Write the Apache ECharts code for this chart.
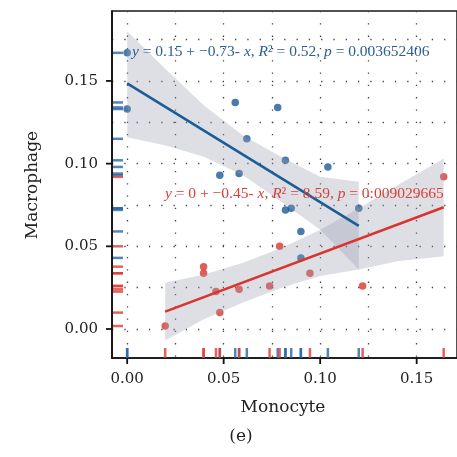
<!DOCTYPE html>
<html>
<head>
<meta charset="utf-8">
<script src="https://cdn.jsdelivr.net/npm/echarts@6/dist/echarts.min.js"></script>
<style>html,body{margin:0;padding:0;background:#fff}#d{width:457px;height:457px}</style>
</head>
<body>
<div id="d"></div>
<script>
// Monocyte (x) vs Macrophage (y), two groups
var blueX = [0.000, 0.000, 0.056, 0.078, 0.062, 0.082, 0.104, 0.048, 0.058, 0.082, 0.085, 0.120, 0.090, 0.090];
var blueY = [0.167, 0.133, 0.137, 0.134, 0.115, 0.102, 0.098, 0.093, 0.094, 0.072, 0.073, 0.073, 0.059, 0.043];
var redX = [0.164, 0.079, 0.0396, 0.0396, 0.0947, 0.0738, 0.058, 0.122, 0.046, 0.048, 0.0197];
var redY = [0.092, 0.050, 0.0377, 0.0337, 0.0337, 0.026, 0.024, 0.026, 0.0226, 0.0099, 0.0018];

// fitted lines (end points)
var blueFitX = [0, 0.12];
var blueFitY = [0.1485, 0.0623];
var redFitX = [0.0197, 0.164];
var redFitY = [0.0105, 0.0736];

// confidence bands
var blueBandX = [0, 0.02, 0.04, 0.06, 0.08, 0.10, 0.12];
var blueBandHi = [0.180, 0.157, 0.135, 0.117, 0.104, 0.092, 0.089];
var blueBandLo = [0.116, 0.111, 0.104, 0.093, 0.077, 0.060, 0.036];
var redBandX = [0.0197, 0.04, 0.06, 0.08, 0.10, 0.12, 0.14, 0.164];
var redBandHi = [0.028, 0.033, 0.040, 0.049, 0.060, 0.073, 0.087, 0.103];
var redBandLo = [-0.007, 0.006, 0.016, 0.025, 0.032, 0.036, 0.041, 0.044];

var xTicks = [0, 0.05, 0.10, 0.15];
var yTicks = [0, 0.05, 0.10, 0.15];
var xGrid = [0, 0.025, 0.05, 0.075, 0.10, 0.125, 0.15];
var yGrid = [0, 0.025, 0.05, 0.075, 0.10, 0.125, 0.15, 0.175];

var xMin = -0.00786, xMax = 0.1709;
var yMin = -0.01754, yMax = 0.1923;

var FONT = 'DejaVu Serif';
var NOTE_FONT = 'Liberation Serif';
var BLUE = '#1c5a96', RED = '#d8362f';

function pairs(a, b) {
  return a.map(function (v, i) { return [v, b[i]]; });
}

function band(xs, lo, hi) {
  return {
    type: 'custom', z: 3, silent: true, clip: true,
    data: [[xs[0], lo[0]]],
    renderItem: function (params, api) {
      var pts = [];
      for (var i = 0; i < xs.length; i++) pts.push(api.coord([xs[i], hi[i]]));
      for (var j = xs.length - 1; j >= 0; j--) pts.push(api.coord([xs[j], lo[j]]));
      return { type: 'polygon', shape: { points: pts }, style: { fill: 'rgba(150,155,175,0.32)' } };
    }
  };
}

// rug marks pinned to an axis edge
function rug(vals, onX, color) {
  return {
    type: 'scatter', z: 6, silent: true, clip: false,
    data: vals.map(function (v) { return onX ? [v, yMin] : [xMin, v]; }),
    symbol: 'rect', symbolSize: onX ? [2.5, 10] : [10, 2.5], symbolOffset: onX ? [0, -5] : [6, 0],
    itemStyle: { color: color, opacity: 0.8 }
  };
}

var dotted = { color: '#444', width: 1.3, type: [1.3, 11] };
var axisStroke = { color: '#111', width: 1.7 };

var myChart = echarts.init(document.getElementById('d'));
option = {
  animation: false,
  grid: {
    show: true, left: 112, top: 11, right: -3, bottom: 99,
    borderColor: '#1a1a1a', borderWidth: 1.5, backgroundColor: 'transparent'
  },
  xAxis: [{
    type: 'value', min: xMin, max: xMax, position: 'bottom',
    axisLine: { show: true, onZero: false, lineStyle: axisStroke },
    axisTick: { show: false },
    axisLabel: { customValues: xTicks, formatter: function (v) { return v.toFixed(2); },
      fontFamily: FONT, fontSize: 15, color: '#222', margin: 14 },
    splitLine: { show: false }
  }, {
    type: 'value', min: xMin, max: xMax, position: 'top',
    axisLine: { show: false, onZero: false }, axisLabel: { show: false },
    axisTick: { show: false, customValues: xGrid },
    splitLine: { show: true, lineStyle: dotted }
  }],
  yAxis: [{
    type: 'value', min: yMin, max: yMax, position: 'left',
    axisLine: { show: true, onZero: false, lineStyle: axisStroke },
    axisTick: { show: false },
    axisLabel: { customValues: yTicks, formatter: function (v) { return v.toFixed(2); },
      fontFamily: FONT, fontSize: 15, color: '#222', margin: 14 },
    splitLine: { show: false }
  }, {
    type: 'value', min: yMin, max: yMax, position: 'right',
    axisLine: { show: false, onZero: false }, axisLabel: { show: false },
    axisTick: { show: false, customValues: yGrid },
    splitLine: { show: true, lineStyle: dotted }
  }],
  series: [
    { type: 'scatter', z: 2, data: pairs(blueX, blueY), symbolSize: 7.5, clip: false,
      itemStyle: { color: BLUE } },
    { type: 'scatter', z: 2, data: pairs(redX, redY), symbolSize: 7.5, clip: false,
      itemStyle: { color: RED } },
    band(blueBandX, blueBandLo, blueBandHi),
    band(redBandX, redBandLo, redBandHi),
    { type: 'line', z: 4, data: pairs(blueFitX, blueFitY), symbol: 'none',
      lineStyle: { color: '#1b5d97', width: 2.6 } },
    { type: 'line', z: 4, data: pairs(redFitX, redFitY), symbol: 'none',
      lineStyle: { color: '#d9352e', width: 2.6 } },
    rug(blueY, false, '#2866a3'),
    rug(redY, false, '#de3b35'),
    rug(blueX, true, '#2866a3'),
    rug(redX, true, '#de3b35')
  ],
  graphic: [
    { type: 'text', x: 132, y: 52, z: 10, style: {
      text: '{i|y} = 0.15 + \u22120.73- {i|x}, {i|R}\u00b2 = 0.52, {i|p} = 0.003652406',
      font: '15.5px "' + NOTE_FONT + '"', fill: '#2c5d95', verticalAlign: 'middle',
      rich: { i: { fontStyle: 'italic', fontFamily: NOTE_FONT, fontSize: 15.5, fill: '#2c5d95' } } } },
    { type: 'text', x: 165, y: 194, z: 10, style: {
      text: '{i|y} = 0 + \u22120.45- {i|x}, {i|R}\u00b2 = 8.59, {i|p} = 0:009029665',
      font: '15.5px "' + NOTE_FONT + '"', fill: '#d8403a', verticalAlign: 'middle',
      rich: { i: { fontStyle: 'italic', fontFamily: NOTE_FONT, fontSize: 15.5, fill: '#d8403a' } } } },
    { type: 'text', x: 33, y: 185, rotation: Math.PI / 2, style: {
      text: 'Macrophage', font: '17px "' + FONT + '"', fill: '#222', align: 'center', verticalAlign: 'middle' } },
    { type: 'text', x: 283, y: 408, style: {
      text: 'Monocyte', font: '17px "' + FONT + '"', fill: '#222', align: 'center', verticalAlign: 'middle' } },
    { type: 'text', x: 241, y: 437, style: {
      text: '(e)', font: '17px "' + FONT + '"', fill: '#222', align: 'center', verticalAlign: 'middle' } }
  ]
};
option && myChart.setOption(option);

// outward tick marks as small rects, placed with the grid's own scale
var tickEls = [];
xTicks.forEach(function (v) {
  var p = myChart.convertToPixel({ gridIndex: 0 }, [v, yMin]);
  if (p && isFinite(p[0])) {
    tickEls.push({ type: 'rect', z: 20, silent: true,
      shape: { x: p[0] - 0.9, y: p[1], width: 1.8, height: 6 }, style: { fill: '#111' } });
  }
});
yTicks.forEach(function (v) {
  var p = myChart.convertToPixel({ gridIndex: 0 }, [xMin, v]);
  if (p && isFinite(p[1])) {
    tickEls.push({ type: 'rect', z: 20, silent: true,
      shape: { x: p[0] - 6, y: p[1] - 0.9, width: 6, height: 1.8 }, style: { fill: '#111' } });
  }
});
myChart.setOption({ graphic: option.graphic.concat(tickEls) });
</script>
</body>
</html>
